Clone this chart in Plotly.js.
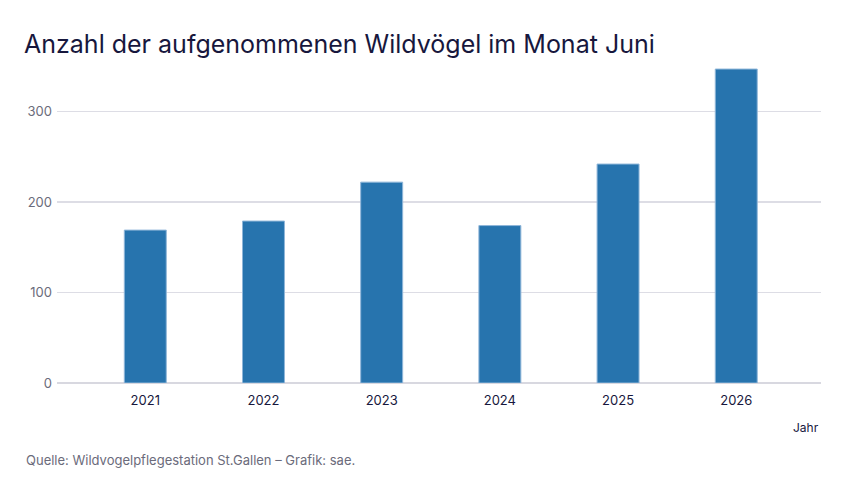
<!DOCTYPE html>
<html>
<head>
<meta charset="utf-8">
<script src="https://cdn.plot.ly/plotly-3.0.1.min.js"></script>
<style>html,body{margin:0;padding:0;background:#fff;}#chart{width:850px;height:480px;}</style>
</head>
<body>
<div id="chart"></div>
<script>
const years = ['2021', '2022', '2023', '2024', '2025', '2026'];
const birds = [169, 179, 222, 174, 242, 347];
const yTicks = [0, 100, 200, 300];

const navy = '#17173d';
const grey = '#6b6b7b';
const font = 'Inter, Roboto, "Noto Sans", sans-serif';

Plotly.newPlot('chart', [{
  type: 'bar',
  x: years,
  y: birds,
  marker: {color: '#2774ae', line: {color: '#8fb6d9', width: 1}},
  hoverinfo: 'x+y'
}], {
  width: 850, height: 480,
  margin: {l: 57, r: 29, t: 60, b: 97},
  paper_bgcolor: '#fff', plot_bgcolor: '#fff',
  bargap: 0.645,
  showlegend: false,
  title: {
    text: 'Anzahl der aufgenommenen Wildvögel im Monat Juni',
    font: {family: font, size: 25, color: navy},
    xref: 'container', yref: 'container',
    x: 24/850, xanchor: 'left',
    y: 1 - 44/480, yanchor: 'middle'
  },
  xaxis: {
    type: 'category',
    range: [-0.747, 5.717],
    showgrid: false, zeroline: false, showline: false,
    ticks: '', ticklabelstandoff: 8,
    tickfont: {family: font, size: 13, color: navy},
    title: {text: ''}
  },
  yaxis: {
    range: [0, 357],
    tickvals: yTicks,
    ticktext: yTicks.map(String),
    showgrid: true, gridcolor: '#dddde5', gridwidth: 1.3,
    zeroline: true, zerolinecolor: '#d8d8e0', zerolinewidth: 1.5,
    showline: false, ticks: '',
    ticklabelstandoff: 4,
    tickfont: {family: font, size: 13, color: grey}
  },
  annotations: [
    {text: 'Jahr', xref: 'paper', yref: 'paper', x: 1, y: 0, yshift: -44, xanchor: 'right', yanchor: 'middle', showarrow: false, font: {family: font, size: 12, color: navy}},
    {text: 'Quelle: Wildvogelpflegestation St.Gallen – Grafik: sae.', xref: 'paper', yref: 'paper', x: 0, xshift: -33, y: 0, yshift: -77, xanchor: 'left', yanchor: 'middle', showarrow: false, font: {family: font, size: 13, color: grey}}
  ]
}, {displayModeBar: false, staticPlot: true});
</script>
</body>
</html>
